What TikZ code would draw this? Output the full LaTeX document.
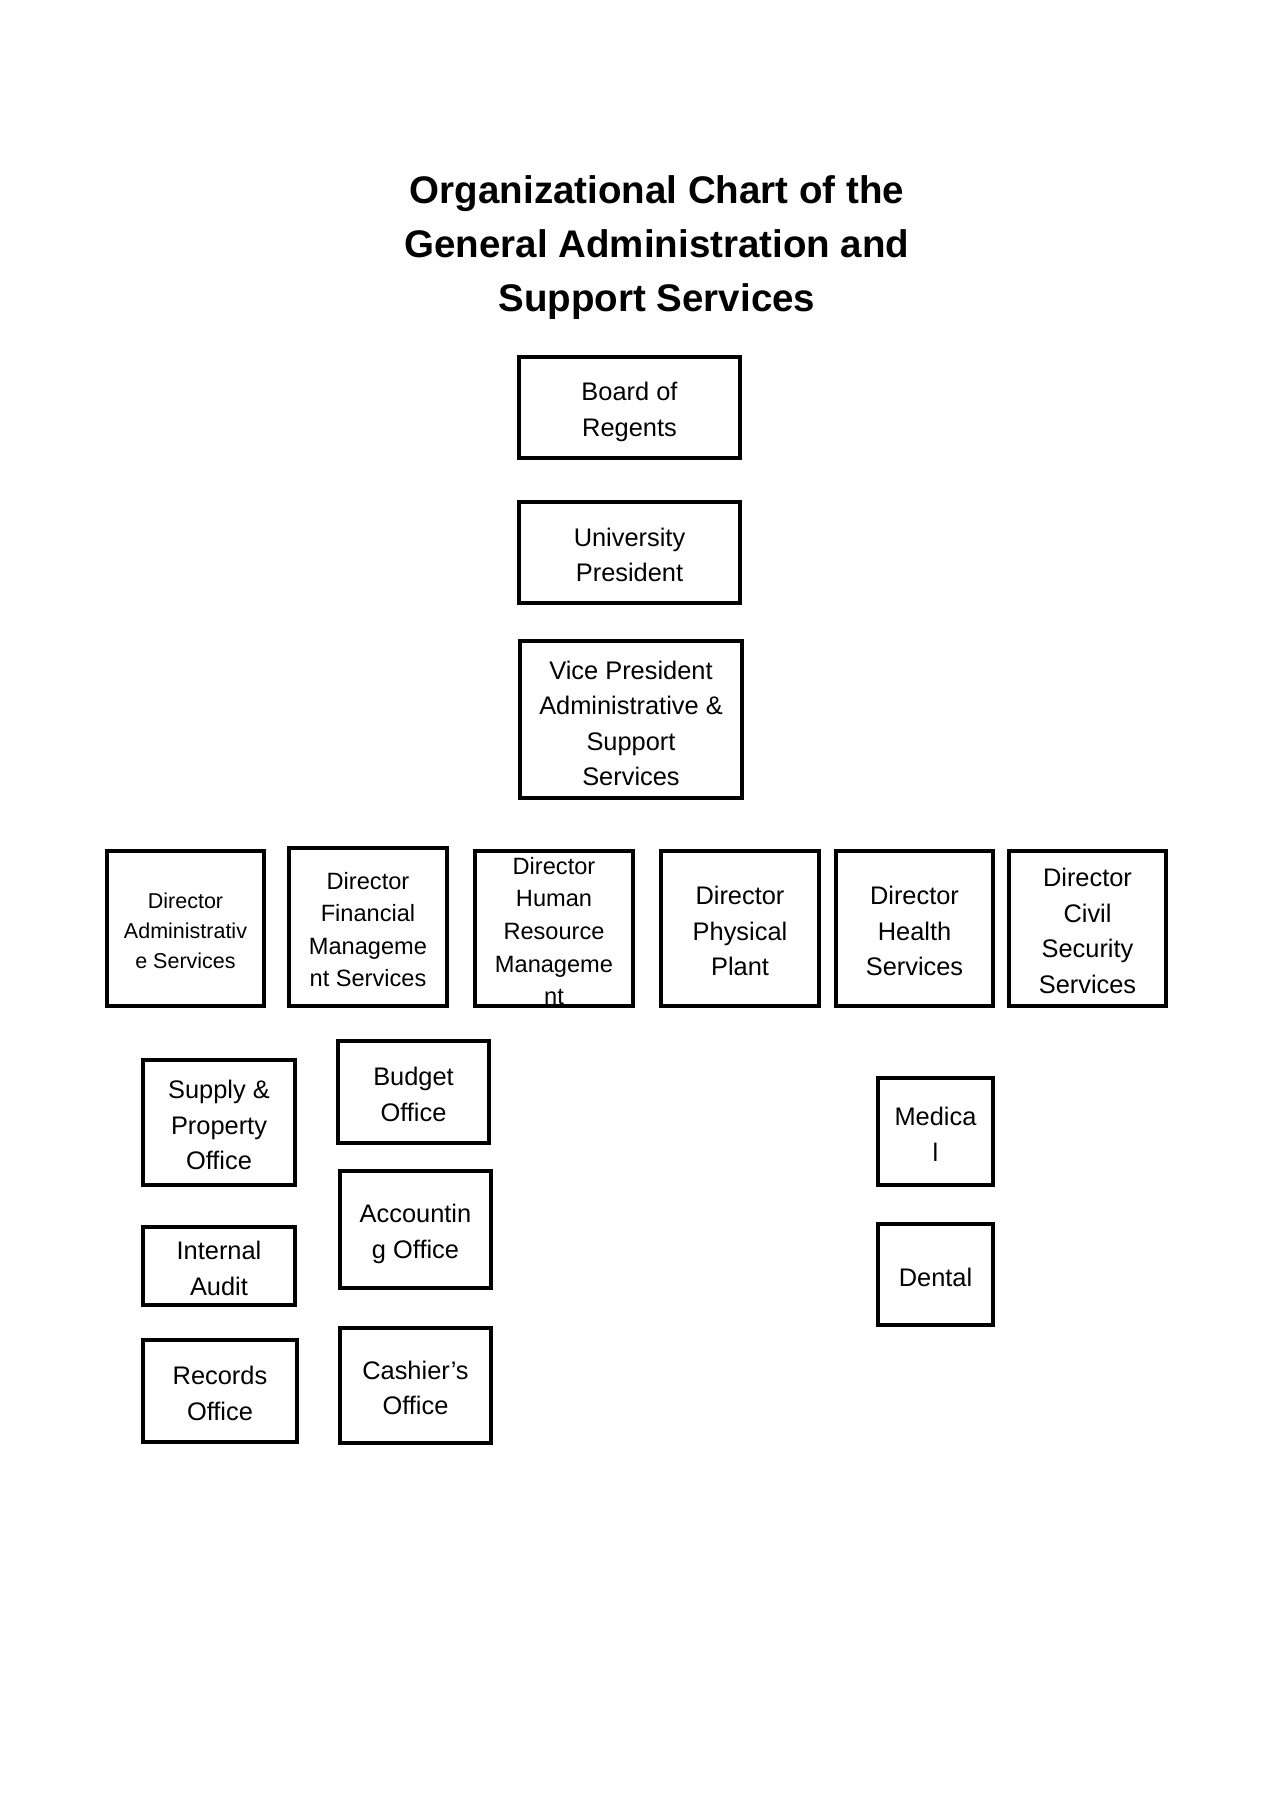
\documentclass[tikz,border=0pt]{standalone}
\usepackage{fontspec}
\setmainfont{Liberation Sans}
\begin{document}
\begin{tikzpicture}[x=1pt,y=-1pt,
  box/.style={draw=black,line width=3.2pt,rectangle,inner sep=0pt},
  txt/.style={inner sep=0pt,align=center,yshift=-2.5pt,font=\fontsize{25.4}{35.6}\selectfont},
  smalltxt/.style={txt,font=\fontsize{21.5}{30}\selectfont},
  midtxt/.style={txt,font=\fontsize{23.6}{32.6}\selectfont},
  title/.style={align=center,font=\fontsize{38.5}{54}\selectfont\bfseries}]
\useasboundingbox (0,0) rectangle (1272,1800);
\node[title] (title) at (657,247.5) {Organizational Chart of the\\General Administration and\\Support Services};
% boxes
\node[box,minimum width=221,minimum height=101] (board) at (629.5,407.5) {};
\node[box,minimum width=221,minimum height=101] (pres) at (629.5,552.5) {};
\node[box,minimum width=222,minimum height=157] (vp) at (631,719.5) {};
\node[box,minimum width=157,minimum height=155] (dadm) at (185.5,928.5) {};
\node[box,minimum width=158,minimum height=158] (dfin) at (368,927) {};
\node[box,minimum width=158,minimum height=155] (dhr) at (554,928.5) {};
\node[box,minimum width=158,minimum height=155] (dpp) at (740,928.5) {};
\node[box,minimum width=157,minimum height=155] (dhs) at (914.5,928.5) {};
\node[box,minimum width=157,minimum height=155] (dcs) at (1087.5,928.5) {};
\node[box,minimum width=152,minimum height=125] (supply) at (219,1122.5) {};
\node[box,minimum width=152,minimum height=78] (audit) at (219,1266) {};
\node[box,minimum width=154,minimum height=102] (records) at (220,1391) {};
\node[box,minimum width=151,minimum height=102] (budget) at (413.5,1092) {};
\node[box,minimum width=151,minimum height=117] (acct) at (415.5,1229.5) {};
\node[box,minimum width=151,minimum height=115] (cashier) at (415.5,1385.5) {};
\node[box,minimum width=115,minimum height=107] (medical) at (935.5,1131.5) {};
\node[box,minimum width=115,minimum height=101] (dental) at (935.5,1274.5) {};
% texts
\node[txt,yshift=-2pt] (board-t) at (board) {Board of\\Regents};
\node[txt] (pres-t) at (pres) {University\\President};
\node[txt,yshift=-1.5pt] (vp-t) at (vp) {Vice President\\Administrative \&\\Support\\Services};
\node[smalltxt] (dadm-t) at (dadm) {Director\\Administrativ\\e Services};
\node[midtxt] (dfin-t) at (dfin) {Director\\Financial\\Manageme\\nt Services};
\node[midtxt] (dhr-t) at (dhr) {Director\\Human\\Resource\\Manageme\\nt};
\node[txt] (dpp-t) at (dpp) {Director\\Physical\\Plant};
\node[txt] (dhs-t) at (dhs) {Director\\Health\\Services};
\node[txt] (dcs-t) at (dcs) {Director\\Civil\\Security\\Services};
\node[txt] (supply-t) at (supply) {Supply \&\\Property\\Office};
\node[txt] (audit-t) at (audit) {Internal\\Audit};
\node[txt] (records-t) at (records) {Records\\Office};
\node[txt] (budget-t) at (budget) {Budget\\Office};
\node[txt,yshift=-2pt] (acct-t) at (acct) {Accountin\\g Office};
\node[txt] (cashier-t) at (cashier) {Cashier’s\\Office};
\node[txt] (medical-t) at (medical) {Medica\\l};
\node[txt] (dental-t) at (dental) {Dental};
\end{tikzpicture}
\end{document}
